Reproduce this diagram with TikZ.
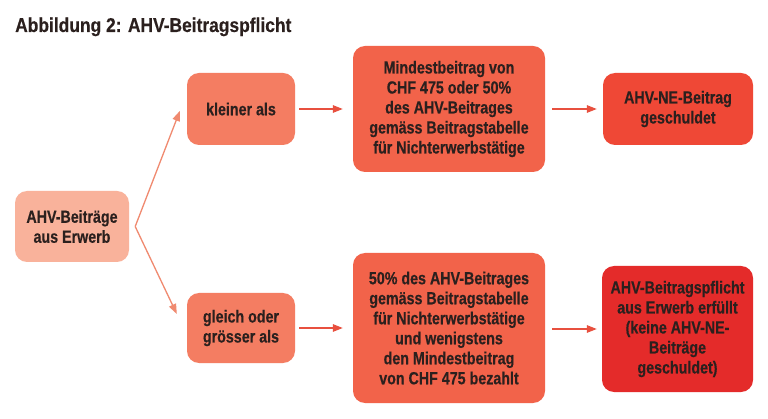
\documentclass[tikz,border=0pt]{standalone}
\usepackage{fontspec}
\setmainfont{Liberation Sans}[FakeStretch=0.815,FakeBold=0.4]
\newfontfamily\titlefont{Liberation Sans}[FakeStretch=0.87,FakeBold=0.3]
\usetikzlibrary{arrows.meta}
\definecolor{txt}{HTML}{2B201E}
\definecolor{cA}{HTML}{F9B29B}
\definecolor{cB}{HTML}{F47D62}
\definecolor{cC}{HTML}{F2634A}
\definecolor{cD}{HTML}{EF4836}
\definecolor{cE}{HTML}{E42B2A}
\definecolor{arrL}{HTML}{F08A70}
\definecolor{arrR}{HTML}{E8503F}
\begin{document}
\begin{tikzpicture}[x=1pt,y=-1pt,
  box/.style={rectangle, rounded corners=12pt, inner sep=0pt, align=center,
    text=txt, font=\fontsize{17.5}{20}\selectfont\bfseries},
  conn/.style={line width=1.3pt, -{Triangle[length=10pt,width=7.5pt]}},
  diag/.style={conn, draw=arrL, fill=arrL},
  horiz/.style={conn, draw=arrR, fill=arrR}]
\useasboundingbox[fill=white] (0,0) rectangle (768,419);
\node[anchor=base west, text=txt, font=\titlefont\fontsize{20}{22}\selectfont\bfseries, inner sep=0pt] (title) at (15,32) {Abbildung 2: AHV-Beitragspflicht};

\node[box, fill=cA, minimum width=114pt, minimum height=71pt] (a) at (72,226.5) {AHV-Beiträge\\aus Erwerb};
\node[box, fill=cB, minimum width=108pt, minimum height=72pt] (kl) at (241,109) {kleiner als};
\node[box, fill=cB, minimum width=108pt, minimum height=70pt] (gl) at (241,328) {gleich oder\\grösser als};
\node[box, fill=cC, minimum width=192pt, minimum height=126pt] (tm) at (449,109) {Mindestbeitrag von\\CHF 475 oder 50\%\\des AHV-Beitrages\\gemäss Beitragstabelle\\für Nichterwerbstätige};
\node[box, fill=cC, minimum width=192pt, minimum height=150pt] (bm) at (449,328) {50\% des AHV-Beitrages\\gemäss Beitragstabelle\\für Nichterwerbstätige\\und wenigstens\\den Mindestbeitrag\\von CHF 475 bezahlt};
\node[box, fill=cD, minimum width=150pt, minimum height=72pt] (tr) at (678,109) {AHV-NE-Beitrag\\geschuldet};
\node[box, fill=cE, minimum width=151pt, minimum height=126pt] (br) at (677.5,329) {AHV-Beitragspflicht\\aus Erwerb erfüllt\\(keine AHV-NE-\\Beiträge\\geschuldet)};

\coordinate (j) at ([xshift=6pt]a.east);
\coordinate (tup) at ([xshift=-7pt,yshift=-2pt]kl.west);
\coordinate (tdn) at ([xshift=-10pt,yshift=14pt]gl.west);
\draw[diag] (j) -- (tup);
\draw[diag] (j) -- (tdn);

\draw[horiz, shorten <=4pt, shorten >=10pt] (kl.east) -- (tm.west);
\draw[horiz, shorten <=4pt, shorten >=10pt] (gl.east) -- (bm.west);
\draw[horiz, shorten <=7pt, shorten >=6pt] (tm.east) -- (tr.west);
\draw[horiz, shorten <=7pt, shorten >=5pt] (bm.east |- br.west) -- (br.west);
\end{tikzpicture}
\end{document}
